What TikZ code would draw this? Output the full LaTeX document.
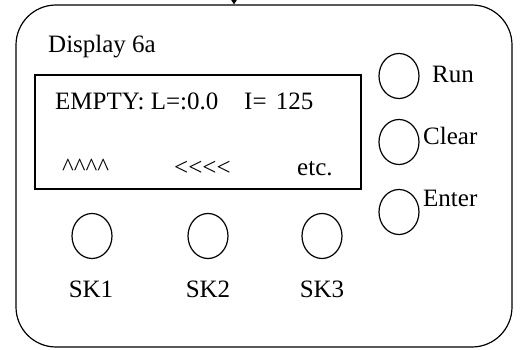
\documentclass[tikz,border=0pt]{standalone}
\usepackage{fontspec}
\setmainfont{Liberation Serif}
\usetikzlibrary{shapes.geometric,arrows.meta}
\begin{document}
\begin{tikzpicture}[x=1pt,y=-1pt,
  every node/.style={font=\fontsize{25}{29}\selectfont, inner sep=0pt},
  btn/.style={draw, line width=1.2pt, ellipse, minimum width=40pt, minimum height=45pt},
  txt/.style={anchor=base west},
  frame/.style={draw, line width=1.2pt}]
\useasboundingbox (0,0) rectangle (523,350);
\node[frame, rounded corners=40pt, minimum width=496pt, minimum height=342pt] (panel) at (264,176) {};
\coordinate (src) at (234,0);
\draw[line width=1pt, -{Triangle[length=5pt,width=6pt]}] (src) -- (src |- panel.north);
\node[frame, minimum width=326pt, minimum height=114pt] (screen) at (198,132) {};
\node[txt] (title) at (48,53) {Display 6a};
\node[txt] (l1a) at (55,110) {EMPTY: L=:0.0};
\node[txt] (l1b) at (244,110) {I=\hspace{3pt} 125};
\node[txt] (l2a) at (62,176) {\textasciicircum\textasciicircum\textasciicircum\textasciicircum};
\node[txt] (l2b) at (174,176) {<{}<{}<{}<};
\node[txt] (l2c) at (297,176) {etc.};
\node[btn] (run) at (399,76) {};
\node[btn] (clear) at (399,142) {};
\node[btn] (enter) at (399,212) {};
\node[txt] (runl) at (432,83) {Run};
\node[txt] (clearl) at (423,145) {Clear};
\node[txt] (enterl) at (423,207) {Enter};
\node[btn] (sk1) at (92,236) {};
\node[btn] (sk2) at (208,236) {};
\node[btn] (sk3) at (322,236) {};
\node[anchor=base] (sk1l) at (91,298) {SK1};
\node[anchor=base] (sk2l) at (208,298) {SK2};
\node[anchor=base] (sk3l) at (322,298) {SK3};
\end{tikzpicture}
\end{document}
